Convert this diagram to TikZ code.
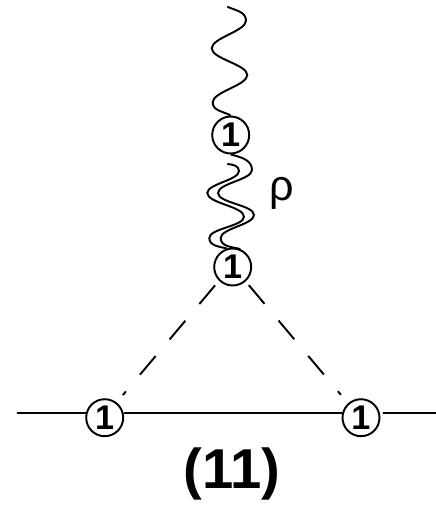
\documentclass[tikz,border=0pt]{standalone}
\usepackage{fontspec}
\setmainfont{Liberation Sans}
\usepackage{tikz}
\usetikzlibrary{calc}

\begin{document}
\begin{tikzpicture}[
    x=0.02cm, y=0.02cm,
    vert/.style={circle, draw, line width=1.1pt, fill=white, inner sep=0pt, minimum size=0.74cm, font=\fontsize{19.5}{19.5}\selectfont\bfseries},
    prop/.style={line width=1.1pt, looseness=0.6},
    dashline/.style={line width=1.1pt, dash pattern=on 0.488cm off 0.436cm}
]

\useasboundingbox (0,0) rectangle (436,505);

\node[vert] (v1) at (230.7,370) {1};
\node[vert] (v2) at (232.7,238) {1};
\node[vert] (v3) at (104.7,87.3) {1};
\node[vert] (v4) at (361,87.3) {1};

\coordinate (ext) at (227.3,498.3);
\coordinate (rhoend) at (227.3,341);
\coordinate (in) at (17,92);
\coordinate (out) at (436,92);

\node[font=\fontsize{24.5}{24.5}\selectfont] (rho) at (281.7,312) {ρ};
\node[font=\fontsize{32}{32}\selectfont\bfseries] (lab) at (232,31) {(11)};

% external photon
\draw[prop] (ext) to[out=-25,in=90,looseness=1] (246,484.3) to[out=-90,in=90] (211.7,456.7)
    to[out=-90,in=90] (247.3,430) to[out=-90,in=90] (212.7,402.7)
    to[out=-90,in=150,looseness=1] (v1.north);

% rho line
\draw[prop] (v1.south) to[out=-15,in=90,looseness=1] (252,335) to[out=-90,in=90] (218,312)
    to[out=-90,in=90] (254,290) to[out=-90,in=90] (220.7,267)
    to[out=-90,in=165,looseness=1] (v2.67);
\draw[prop] (rhoend) to[out=-5,in=90,looseness=1] (239,334) to[out=-90,in=90] (207.3,312)
    to[out=-90,in=90] (244,288.3) to[out=-90,in=90] (209.3,267)
    to[out=-90,in=165,looseness=1] (v2.108);

% triangle
\draw[dashline, shorten <=0.12cm, shorten >=0.19cm] (v2.225) -- (v3.52);
\draw[dashline, shorten <=0.096cm, shorten >=0.22cm] (v2.-48) -- (v4.132);

\draw[prop] (in) -- (v3.166);
\draw[prop] (v3.14) -- (v4.166);
\draw[prop, shorten <=0.06cm] (v4.14) -- (out);

\end{tikzpicture}
\end{document}
